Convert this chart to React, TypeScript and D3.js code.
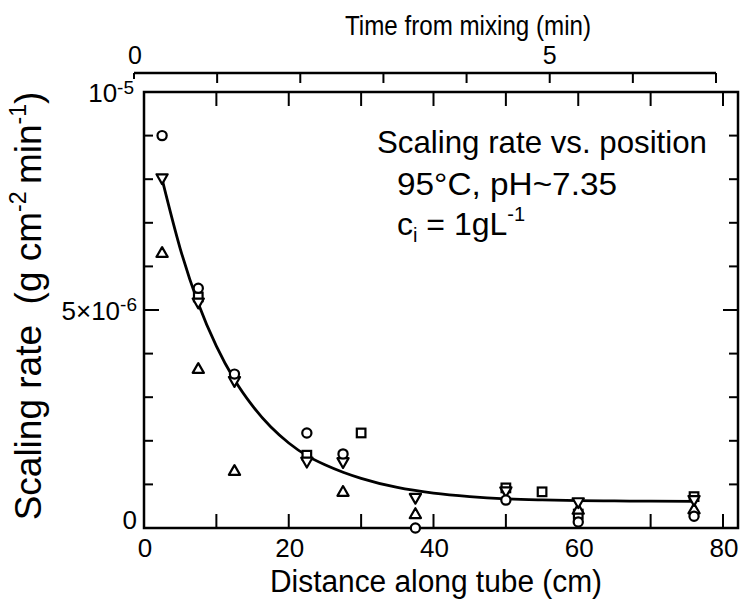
import React from "react";
import * as d3 from "d3";

// ---- data (values in units of 1e-6 g cm^-2 min^-1) ----
const circleX = [2.5, 7.5, 12.5, 22.5, 27.5, 37.5, 50, 60, 76];
const circleY = [9.0, 5.5, 3.53, 2.18, 1.7, 0.0, 0.64, 0.14, 0.27];
const invTriX = [2.5, 7.5, 12.5, 22.5, 27.5, 37.5, 50, 60, 76];
const invTriY = [8.0, 5.15, 3.35, 1.5, 1.49, 0.67, 0.82, 0.57, 0.62];
const triX = [2.5, 7.5, 12.5, 27.5, 37.5, 60, 76];
const triY = [6.33, 3.67, 1.33, 0.85, 0.34, 0.44, 0.45];
const squareX = [7.5, 22.5, 30, 50, 55, 60, 76];
const squareY = [5.3, 1.67, 2.18, 0.92, 0.83, 0.32, 0.72];

// fitted curve
const fitX = [2.5, 5, 7.5, 10, 12.5, 15, 17.5, 20, 22.5, 25, 27.5, 30, 35, 40, 45, 50, 55, 60, 65, 70, 76];
const fitY = [8.0, 6.41, 5.15, 4.17, 3.4, 2.8, 2.32, 1.95, 1.66, 1.45, 1.28, 1.14, 0.93, 0.8, 0.72, 0.67, 0.645, 0.63, 0.62, 0.615, 0.61];

const xTicks = [0, 10, 20, 30, 40, 50, 60, 70, 80];
const xTickLabels = [0, 20, 40, 60, 80];
const yTicks = [1, 2, 3, 4, 5, 6, 7, 8, 9];
const timeTicks = [0, 1, 2, 3, 4, 5, 6, 7];
const timeTickLabels = [0, 5];

const FONT = "'Liberation Sans', Arial, sans-serif";

export default function App() {
  const W = 740, H = 602;
  const left = 144, right = 738, top = 92, bottom = 528;
  const x = d3.scaleLinear().domain([0, 80]).range([144, 723]);
  const y = d3.scaleLinear().domain([0, 10]).range([bottom, top]);
  const t = d3.scaleLinear().domain([0, 7]).range([134, 716]);
  const timeAxisY = 73;

  const line = d3
    .line<number>()
    .x((_, i) => x(fitX[i]))
    .y((d) => y(d))
    .curve(d3.curveMonotoneX);

  const sw = 2.2;
  const circles = circleX.map((cx, i) => (
    <circle key={"c" + i} cx={x(cx)} cy={y(circleY[i])} r={4.6} fill="white" stroke="black" strokeWidth={sw} />
  ));
  const triPath = (px: number, py: number, up: boolean) => {
    const s = 5.6;
    const h = 4.9;
    return up
      ? `M${px - s},${py + h}L${px + s},${py + h}L${px},${py - h}Z`
      : `M${px - s},${py - h}L${px + s},${py - h}L${px},${py + h}Z`;
  };
  const invTris = invTriX.map((cx, i) => (
    <path key={"v" + i} d={triPath(x(cx), y(invTriY[i]), false)} fill="white" stroke="black" strokeWidth={sw} strokeLinejoin="round" />
  ));
  const tris = triX.map((cx, i) => (
    <path key={"t" + i} d={triPath(x(cx), y(triY[i]), true)} fill="white" stroke="black" strokeWidth={sw} strokeLinejoin="round" />
  ));
  const squares = squareX.map((cx, i) => (
    <rect key={"s" + i} x={x(cx) - 4.3} y={y(squareY[i]) - 4.3} width={8.6} height={8.6} fill="white" stroke="black" strokeWidth={sw} />
  ));

  return (
    <svg width={W} height={H} style={{ position: "absolute", left: 0, top: 0, background: "white" }} fontFamily={FONT}>
      <rect x={0} y={0} width={W} height={H} fill="white" />

      {/* top time axis */}
      <line x1={t(0)} x2={t(7)} y1={timeAxisY} y2={timeAxisY} stroke="black" strokeWidth={2.4} />
      {timeTicks.map((v) => (
        <line key={"tt" + v} x1={t(v)} x2={t(v)} y1={timeAxisY} y2={timeAxisY + (v === 0 ? 6 : 10)} stroke="black" strokeWidth={2} />
      ))}
      {timeTickLabels.map((v) => (
        <text key={"tl" + v} x={t(v) + (v === 0 ? 1 : 0)} y={64} fontSize={25} textAnchor="middle">
          {v}
        </text>
      ))}
      <text x={468} y={35} fontSize={28} textAnchor="middle" textLength={246} lengthAdjust="spacingAndGlyphs">
        Time from mixing  (min)
      </text>

      {/* plot frame */}
      <rect x={left} y={top} width={right - left} height={bottom - top} fill="none" stroke="black" strokeWidth={2.5} />
      {xTicks.filter((v) => v > 0).map((v) => (
        <g key={"xt" + v}>
          <line x1={x(v)} x2={x(v)} y1={bottom} y2={bottom - 14} stroke="black" strokeWidth={2} />
          <line x1={x(v)} x2={x(v)} y1={top} y2={top + 14} stroke="black" strokeWidth={2} />
        </g>
      ))}
      {yTicks.map((v) => (
        <g key={"yt" + v}>
          <line x1={left} x2={left + (v === 5 ? 15 : 9)} y1={y(v)} y2={y(v)} stroke="black" strokeWidth={2} />
          <line x1={right} x2={right - (v === 5 ? 15 : 9)} y1={y(v)} y2={y(v)} stroke="black" strokeWidth={2} />
        </g>
      ))}
      {xTickLabels.map((v) => (
        <text key={"xl" + v} x={x(v) + 1} y={557} fontSize={26} textAnchor="middle">
          {v}
        </text>
      ))}

      {/* y tick labels */}
      <text x={137} y={y(0) + 1} fontSize={26} textAnchor="end">0</text>
      <text x={137} y={y(5) + 10} fontSize={26} textAnchor="end">
        5×10<tspan fontSize={19} dy={-9}>-6</tspan>
      </text>
      <text x={134} y={y(10) + 10} fontSize={26} textAnchor="end">
        10<tspan fontSize={19} dy={-8}>-5</tspan>
      </text>

      {/* axis titles */}
      <text x={436} y={592} fontSize={31} textAnchor="middle" textLength={332} lengthAdjust="spacingAndGlyphs">
        Distance along tube  (cm)
      </text>
      <text transform="translate(41,306) rotate(-90)" fontSize={37} textAnchor="middle">
        Scaling rate{"\u00a0\u00a0"}(g cm<tspan fontSize={23} dy={-15}>-2</tspan>
        <tspan dy={15}>{"\u2009"}min</tspan>
        <tspan fontSize={23} dy={-15}>-1</tspan>
        <tspan dy={15}>)</tspan>
      </text>

      {/* annotation */}
      <text x={377} y={153} fontSize={32} textLength={330} lengthAdjust="spacingAndGlyphs">
        Scaling rate vs. position
      </text>
      <text x={397} y={195} fontSize={32} textLength={220} lengthAdjust="spacingAndGlyphs">
        95°C, pH~7.35
      </text>
      <text x={397} y={235} fontSize={32}>
        c<tspan fontSize={20} dy={7}>i</tspan>
        <tspan dy={-7}>{" = 1gL"}</tspan>
        <tspan fontSize={20} dy={-14}>-1</tspan>
      </text>

      {/* fitted curve */}
      <path d={line(fitY) || ""} fill="none" stroke="black" strokeWidth={2.8} />

      {/* markers */}
      {squares}
      {tris}
      {invTris}
      {circles}
    </svg>
  );
}
